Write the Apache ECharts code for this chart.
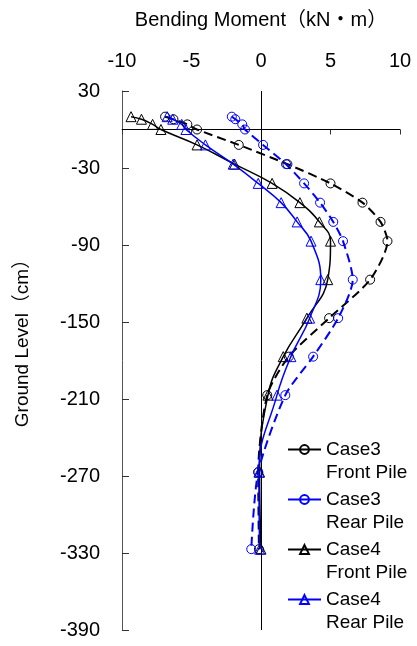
<!DOCTYPE html>
<html>
<head>
<meta charset="utf-8">
<script src="https://cdn.jsdelivr.net/npm/echarts@6/dist/echarts.min.js"></script>
<style>
html,body{margin:0;padding:0;background:#fff;}
#c{width:417px;height:646px;}
</style>
</head>
<body>
<div id="c"></div>
<script>
// Depth of measuring points (cm)
var depths = [10, 8, 4, 0, -12, -27, -42, -57, -72, -87, -117, -147, -177, -207, -267, -327];
// Bending moment (kN·m)
var case3Front = [-6.9, -6.3, -5.3, -4.6, -1.6, 1.9, 5.0, 7.3, 8.6, 9.1, 7.85, 4.9, 2.0, 0.45, -0.2, -0.15];
var case3Rear  = [-2.1, -1.85, -1.35, -1.15, 0.15, 1.8, 3.1, 4.25, 5.2, 5.9, 6.6, 5.55, 3.75, 1.75, -0.2, -0.7];
var case4Front = [-9.35, -8.6, -7.8, -7.2, -4.6, -1.9, 0.8, 2.8, 4.2, 5.0, 4.8, 3.3, 1.6, 0.5, -0.1, 0.0];
var case4Rear  = [-6.75, -6.35, -5.7, -5.4, -4.0, -2.0, -0.2, 1.45, 2.6, 3.6, 4.3, 3.5, 2.15, 1.15, -0.15, -0.1];
var seriesNames = ['Case3\nFront Pile', 'Case3\nRear Pile', 'Case4\nFront Pile', 'Case4\nRear Pile'];
var yTicks = [30, -30, -90, -150, -210, -270, -330, -390];
var xTicks = [-10, -5, 0, 5, 10];

function pairs(vals){ return depths.map(function(d,i){ return [vals[i], d]; }); }

var FONT = '"Liberation Sans", Arial, "Noto Sans CJK SC", sans-serif';
var BLUE = '#0000ff';

function mkSeries(name, vals, color, dashed, symbol){
  return {
    name: name,
    type: 'line',
    data: pairs(vals),
    smooth: dashed ? 0.25 : 0.45,
    symbol: symbol,
    symbolSize: symbol === 'triangle' ? 10 : 9,
    showAllSymbol: true,
    lineStyle: { color: color, width: dashed ? 2 : 1.5, type: dashed ? [9, 5] : 'solid' },
    itemStyle: { color: 'rgba(255,255,255,0)', borderColor: color, borderWidth: 1 },
    emphasis: { disabled: true },
    z: 3
  };
}

var series = [
  mkSeries(seriesNames[0], case3Front, '#000', true, 'circle'),
  mkSeries(seriesNames[1], case3Rear, BLUE, true, 'circle'),
  mkSeries(seriesNames[2], case4Front, '#000', false, 'triangle'),
  mkSeries(seriesNames[3], case4Rear, BLUE, false, 'triangle')
];
series[0].markLine = {
  silent: true,
  symbol: ['none', 'none'],
  label: { show: false },
  lineStyle: { color: '#000', width: 1, type: 'solid' },
  data: [{ xAxis: 0 }, { yAxis: 0 }],
  z: 1
};

var chart = echarts.init(document.getElementById('c'));
chart.setOption({
  animation: false,
  backgroundColor: '#fff',
  textStyle: { fontFamily: FONT },
  grid: { left: 122, top: 91, width: 278, height: 539, containLabel: false },
  xAxis: {
    type: 'value',
    position: 'top',
    min: -10, max: 10, interval: 5,
    name: 'Bending Moment（kN・m）',
    nameLocation: 'middle',
    nameGap: 61,
    nameTextStyle: { fontSize: 20, color: '#000', fontFamily: FONT },
    axisLine: { show: true, lineStyle: { color: '#555', width: 1 } },
    axisTick: { show: true, inside: true, length: 5, lineStyle: { color: '#333' } },
    axisLabel: { color: '#000', fontSize: 20, margin: 20, fontFamily: FONT,
      customValues: xTicks },
    splitLine: { show: false }
  },
  yAxis: {
    type: 'value',
    min: -390, max: 30,
    name: 'Ground Level（cm）',
    nameLocation: 'middle',
    nameGap: 90,
    nameRotate: 90,
    nameTextStyle: { fontSize: 19, color: '#000', fontFamily: FONT, padding: [0, 0, 0, 44] },
    axisLine: { show: true, onZero: false, lineStyle: { color: '#555', width: 1 } },
    axisTick: { show: true, inside: true, length: 7, lineStyle: { color: '#333' }, customValues: yTicks },
    axisLabel: { color: '#000', fontSize: 20, margin: 22, fontFamily: FONT, customValues: yTicks },
    splitLine: { show: false }
  },
  legend: {
    orient: 'vertical',
    left: 287,
    top: 415,
    padding: 0,
    itemWidth: 33,
    itemHeight: 11,
    itemGap: -19,
    lineStyle: { type: 'solid' },
    formatter: function(name){ return '\n' + name; },
    textStyle: { fontSize: 19, lineHeight: 23, color: '#000', fontFamily: FONT },
    data: seriesNames
  },
  series: series
});
</script>
</body>
</html>
